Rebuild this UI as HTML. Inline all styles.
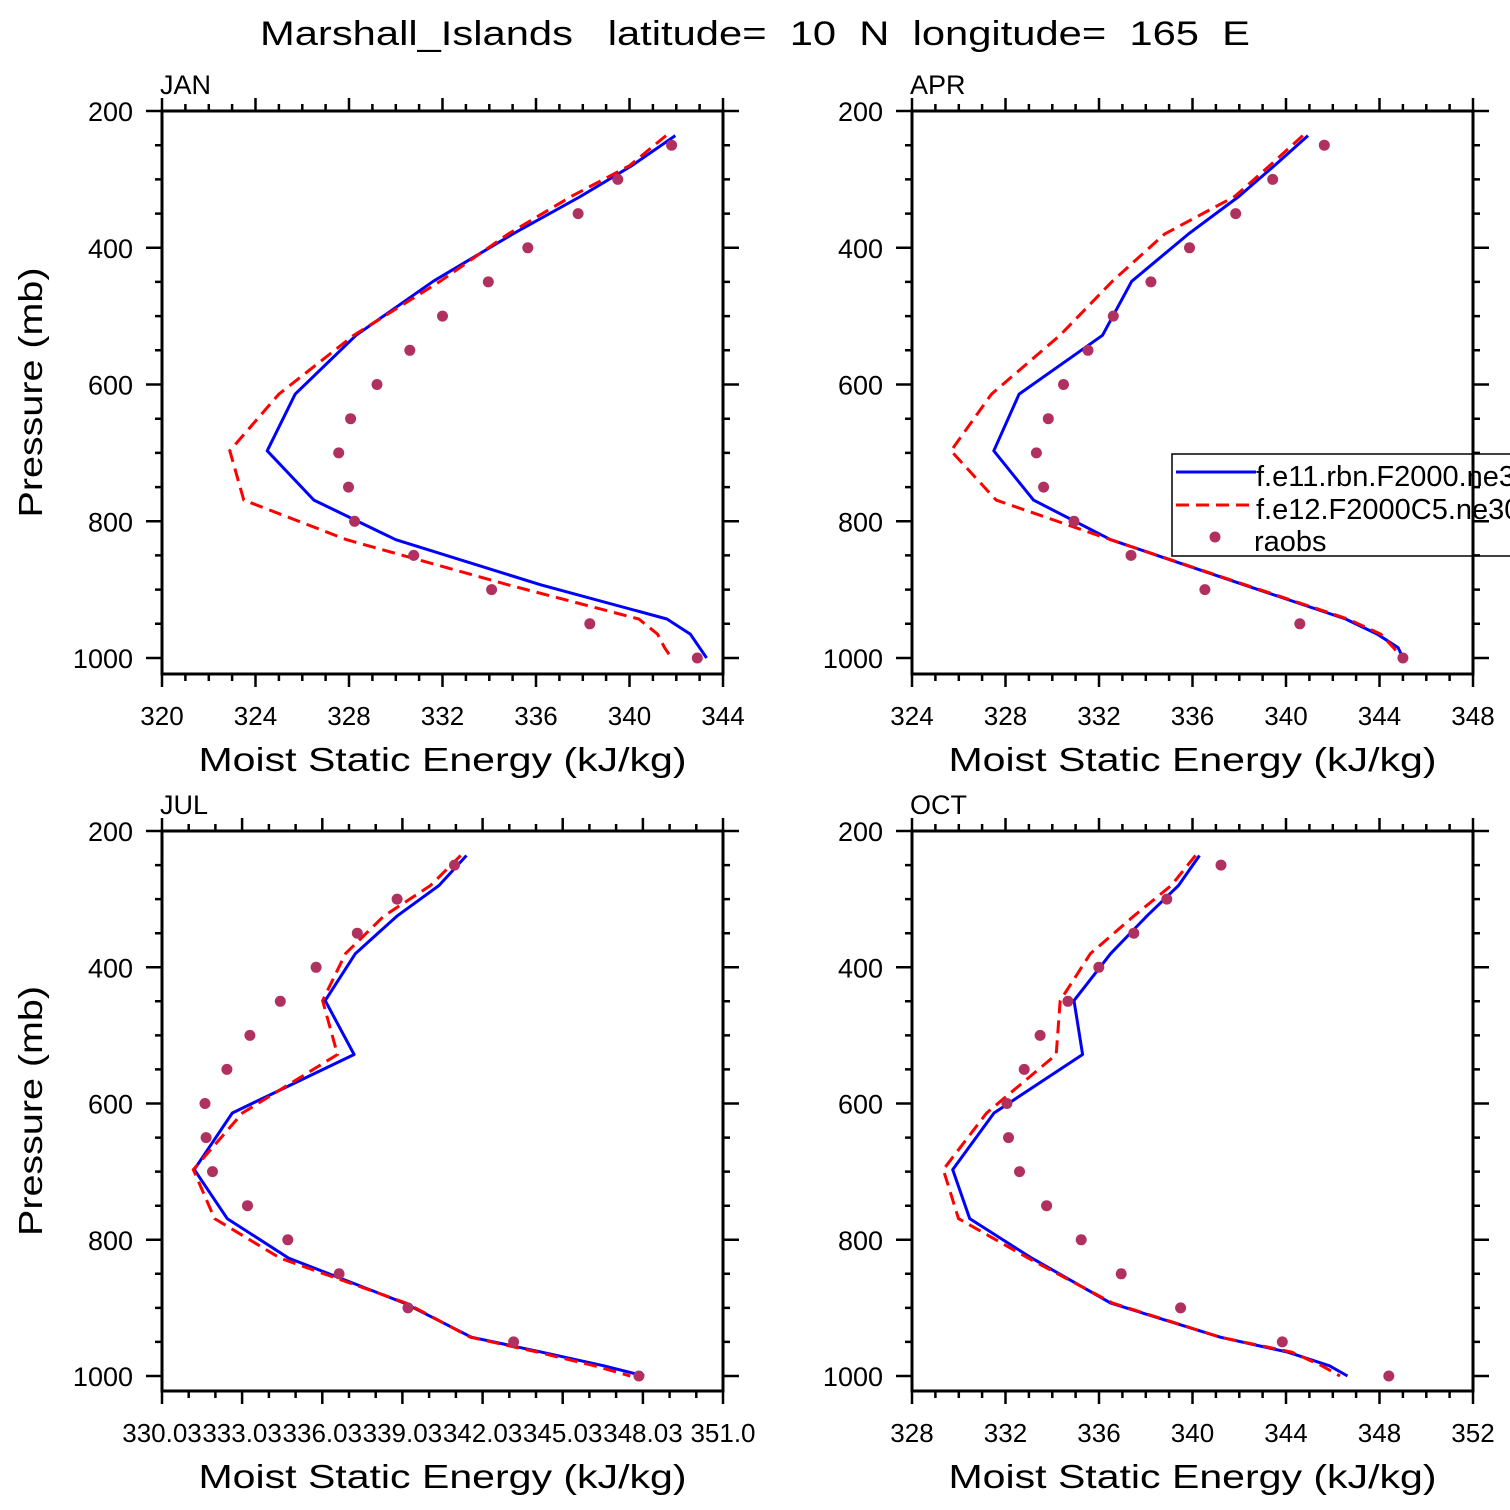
<!DOCTYPE html>
<html><head><meta charset="utf-8"><style>
html,body{margin:0;padding:0;background:#fff;width:1510px;height:1510px;overflow:hidden}
svg{display:block}
text{font-family:"Liberation Sans","DejaVu Sans",sans-serif;fill:#000;white-space:pre}
</style></head><body>
<svg id="chart" width="1510" height="1510" viewBox="0 0 1510 1510">
<text x="755" y="45" font-size="34" text-anchor="middle" textLength="990" lengthAdjust="spacingAndGlyphs" xml:space="preserve">Marshall_Islands   latitude=  10  N  longitude=  165  E</text>
</svg>
<script>
const modelLevels=[236,280,325,380,449,528,614,697,769,827,893,943,965,985,1000];
const obsLevels=[250,300,350,400,450,500,550,600,650,700,750,800,850,900,950,1000];
const months=["JAN","APR","JUL","OCT"];
const janBlue=[341.96,340.1,337.9,335.0,331.6,328.3,325.7,324.5,326.5,330.0,336.2,341.6,342.6,343.0,343.3];
const janRed=[341.56,340.0,337.5,334.8,331.9,328.2,325.0,322.9,323.5,327.9,334.8,340.4,341.2,341.5,341.8];
const janObs=[341.8,339.5,337.8,335.65,333.96,332.0,330.6,329.2,328.07,327.56,327.98,328.24,330.77,334.1,338.3,342.9];
const aprBlue=[340.94,339.5,337.98,335.82,333.4,332.15,328.58,327.5,329.2,332.5,338.2,342.55,343.9,344.8,345.0];
const aprRed=[340.72,339.3,337.8,334.8,332.57,330.33,327.4,325.67,327.6,332.5,338.26,342.64,344.05,344.6,344.96];
const aprObs=[341.64,339.43,337.85,335.87,334.22,332.61,331.53,330.48,329.83,329.32,329.63,330.93,333.37,336.53,340.59,345.0];
const julBlue=[341.43,340.4,338.82,337.27,336.14,337.22,332.66,331.24,332.47,334.77,339.1,341.61,344.25,346.57,348.08];
const julRed=[341.21,340.08,338.33,336.9,336.04,336.6,333.04,331.2,332.0,334.45,339.17,341.57,344.1,346.22,347.56];
const julObs=[340.98,338.83,337.34,335.8,334.46,333.32,332.46,331.64,331.68,331.92,333.23,334.74,336.66,339.24,343.19,347.88];
const octBlue=[340.3,339.4,338.04,336.5,334.93,335.3,331.51,329.74,330.47,333.12,336.5,341.19,344.08,345.86,346.63];
const octRed=[340.13,339.09,337.48,335.63,334.34,334.17,331.19,329.34,329.99,332.97,336.58,341.19,344.25,345.53,346.31];
const octObs=[341.22,338.9,337.49,335.99,334.67,333.48,332.8,332.06,332.13,332.6,333.76,335.24,336.95,339.49,343.84,348.4];
const janTicks=["320","324","328","332","336","340","344"];
const aprTicks=["324","328","332","336","340","344","348"];
const julTicks=["330.03","333.03","336.03","339.03","342.03","345.03","348.03","351.0"];
const octTicks=["328","332","336","340","344","348","352"];
const yTicks=["200","400","600","800","1000"];
const legendLabels=["f.e11.rbn.F2000.ne30_g16","f.e12.F2000C5.ne30_g16","raobs"];

const NS="http://www.w3.org/2000/svg";
const svg=document.getElementById("chart");
function mk(tag,attrs,parent){const e=document.createElementNS(NS,tag);for(const k in attrs)e.setAttribute(k,attrs[k]);(parent||svg).appendChild(e);return e;}

const panels=[
 {m:0,L:162,R:723,T:111,y200:111,y1000:658,B:674,xmin:320,xmax:344,major:4,ticks:janTicks,blue:janBlue,red:janRed,obs:janObs},
 {m:1,L:912,R:1473,T:111,y200:111,y1000:658,B:674,xmin:324,xmax:348,major:4,ticks:aprTicks,blue:aprBlue,red:aprRed,obs:aprObs,legend:true},
 {m:2,L:162,R:723,T:831,y200:831,y1000:1376,B:1391,xmin:330.03,xmax:351.03,major:3,ticks:julTicks,blue:julBlue,red:julRed,obs:julObs},
 {m:3,L:912,R:1473,T:831,y200:831,y1000:1376,B:1391,xmin:328,xmax:352,major:4,ticks:octTicks,blue:octBlue,red:octRed,obs:octObs}
];

panels.forEach(P=>{
 const g=mk("g",{});
 
 
 const xs=v=>P.L+(v-P.xmin)/(P.xmax-P.xmin)*(P.R-P.L);
 const ys=p=>P.y200+(p-200)/800*(P.y1000-P.y200);
 const bp=P.blue.map((v,i)=>xs(v).toFixed(1)+","+ys(modelLevels[i]).toFixed(1)).join(" ");
 const b=mk("polyline",{points:bp,fill:"none",stroke:"#0000ff","stroke-width":3,"stroke-linejoin":"round"},g);
 
 
 const rp=P.red.map((v,i)=>xs(v).toFixed(1)+","+ys(modelLevels[i]).toFixed(1)).join(" ");
 const r=mk("polyline",{points:rp,fill:"none",stroke:"#ff0000","stroke-width":3,"stroke-dasharray":"13,7"},g);
 
 
 P.obs.forEach((v,i)=>{
  const c=mk("circle",{cx:xs(v).toFixed(1),cy:ys(obsLevels[i]).toFixed(1),r:5.5,fill:"#b03060"},g);
  
  
 });
 if(P.legend){
  const lg=mk("g",{},g);
  
  
  mk("rect",{x:1172,y:454,width:400,height:102,fill:"#fff",stroke:"#000","stroke-width":1.5},lg);
  mk("line",{x1:1176,y1:472,x2:1256,y2:472,stroke:"#0000ff","stroke-width":3},lg);
  mk("line",{x1:1176,y1:505,x2:1256,y2:505,stroke:"#ff0000","stroke-width":3,"stroke-dasharray":"13,7"},lg);
  mk("circle",{cx:1215,cy:537,r:5.5,fill:"#b03060"},lg);
  [482,515,547].forEach((yy,i)=>{
   const t=mk("text",{x:i==2?1254:1256,y:yy+4,"font-size":29},lg);
   t.textContent=legendLabels[i];
   
   
  });
 }
 const f=mk("rect",{x:P.L,y:P.T,width:P.R-P.L,height:P.B-P.T,fill:"none",stroke:"#000","stroke-width":3},g);
 
 
 let tp="";
 const nMinor=Math.round(P.xmax-P.xmin);
 for(let k=0;k<=nMinor;k++){
  const x=xs(P.xmin+k);const maj=k%P.major==0;const len=maj?13:7;
  tp+=`M${x.toFixed(1)},${P.B}v${len}M${x.toFixed(1)},${P.T}v${-len}`;
 }
 for(let p=200;p<=1000;p+=50){
  const y=ys(p);const maj=p%200==0;const len=maj?16:7;
  tp+=`M${P.L},${y.toFixed(1)}h${-len}M${P.R},${y.toFixed(1)}h${len}`;
 }
 mk("path",{d:tp,stroke:"#000","stroke-width":2.5,fill:"none"},g);
 P.ticks.forEach((s,i)=>{
  const t=mk("text",{x:xs(P.xmin+i*P.major).toFixed(1),y:P.B+51,"font-size":26,"text-anchor":"middle"},g);
  t.textContent=s;
  
  
 });
 yTicks.forEach(s=>{
  const t=mk("text",{x:P.L-29,y:(ys(+s)+10).toFixed(1),"font-size":27,"text-anchor":"end"},g);
  t.textContent=s;
  
  
 });
 const xt=mk("text",{x:(P.L+P.R)/2,y:P.B+97,"font-size":33,"text-anchor":"middle",textLength:488,lengthAdjust:"spacingAndGlyphs"},g);
 xt.textContent="Moist Static Energy (kJ/kg)";
 
 
 if(P.m%2==0){
  const cy=(P.T+P.B)/2;
  const yt=mk("text",{x:0,y:0,"font-size":33,"text-anchor":"middle",textLength:250,lengthAdjust:"spacingAndGlyphs",transform:`translate(42,${cy}) rotate(-90)`},g);
  yt.textContent="Pressure (mb)";
  
  
 }
 const ml=mk("text",{x:P.L-2,y:P.T-17,"font-size":27},g);
 ml.textContent=months[P.m];
 
 
});
</script>
</body></html>
